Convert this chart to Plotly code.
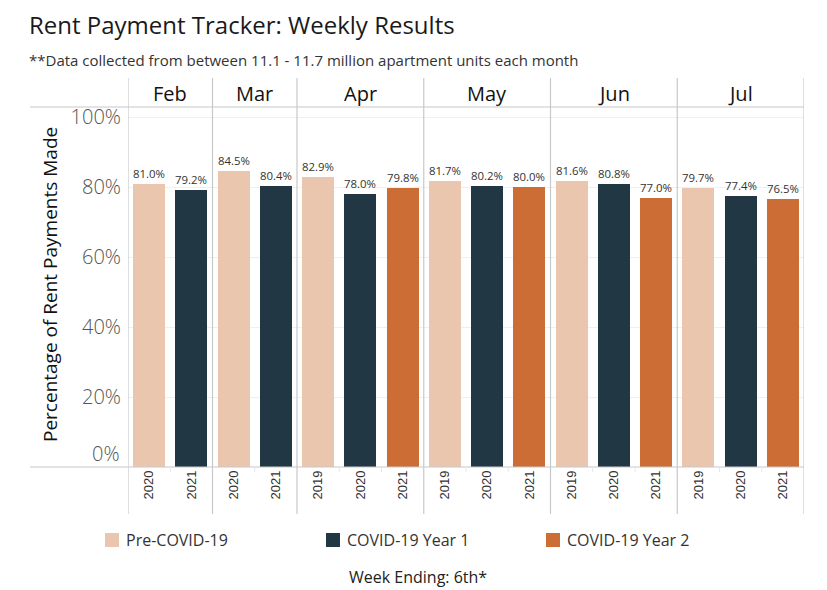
import plotly.graph_objects as go

# ---- data ----
months = ["Feb", "Mar", "Apr", "May", "Jun", "Jul"]
years = [["2020", "2021"], ["2020", "2021"],
         ["2019", "2020", "2021"], ["2019", "2020", "2021"],
         ["2019", "2020", "2021"], ["2019", "2020", "2021"]]
values = [[81.0, 79.2], [84.5, 80.4],
          [82.9, 78.0, 79.8], [81.7, 80.2, 80.0],
          [81.6, 80.8, 77.0], [79.7, 77.4, 76.5]]
groups = [["Pre-COVID-19", "COVID-19 Year 1"], ["Pre-COVID-19", "COVID-19 Year 1"],
          ["Pre-COVID-19", "COVID-19 Year 1", "COVID-19 Year 2"],
          ["Pre-COVID-19", "COVID-19 Year 1", "COVID-19 Year 2"],
          ["Pre-COVID-19", "COVID-19 Year 1", "COVID-19 Year 2"],
          ["Pre-COVID-19", "COVID-19 Year 1", "COVID-19 Year 2"]]
series = ["Pre-COVID-19", "COVID-19 Year 1", "COVID-19 Year 2"]
colors = {"Pre-COVID-19": "#EBC6AF", "COVID-19 Year 1": "#213844", "COVID-19 Year 2": "#CD6D36"}
yticks = [0, 20, 40, 60, 80, 100]

title = "Rent Payment Tracker: Weekly Results"
subtitle = "**Data collected from between 11.1 - 11.7 million apartment units each month"
ytitle = "Percentage of Rent Payments Made"
footer = "Week Ending: 6th*"

# ---- geometry helpers (page pixel coords) ----
W, H = 827, 590
L, R, T, B = 128, 804, 107, 467
YMAX = 102.86
FONT = "Open Sans"

def px(x):
    return (x - L) / (R - L)

def py(y):
    return (B - y) / (B - T)

# flatten slots
slot_x, slot_year, slot_val, slot_grp = [], [], [], []
bounds = [-0.5]
month_centers = []
i = 0
for m, ys, vs, gs in zip(months, years, values, groups):
    start = i
    for y_, v, g in zip(ys, vs, gs):
        slot_x.append(i); slot_year.append(y_); slot_val.append(v); slot_grp.append(g)
        i += 1
    bounds.append(i - 0.5)
    month_centers.append((start + i - 1) / 2)
n = i

fig = go.Figure()
for s in series:
    xs = [x for x, g in zip(slot_x, slot_grp) if g == s]
    vs = [v for v, g in zip(slot_val, slot_grp) if g == s]
    fig.add_trace(go.Bar(
        x=xs, y=vs, name=s, marker=dict(color=colors[s], line=dict(width=0)),
        width=0.76, text=[f"{v:.1f}%" for v in vs], textposition="outside",
        textfont=dict(size=13.5, color="#333333", family=FONT), cliponaxis=False,
        showlegend=False, hoverinfo="skip"))

shapes = []
for yy in (T, B):
    shapes.append(dict(type="line", xref="paper", yref="paper", x0=px(30), x1=1, y0=py(yy), y1=py(yy),
                       line=dict(color="#C8C8C8", width=1.2)))
for b in bounds:
    shapes.append(dict(type="line", xref="x", yref="paper", x0=b, x1=b, y0=py(514), y1=py(78),
                       line=dict(color="#C8C8C8", width=1.2)))
for k in range(n - 1):
    bx = k + 0.5
    if bx not in bounds:
        shapes.append(dict(type="line", xref="x", yref="paper", x0=bx, x1=bx, y0=py(467), y1=py(472),
                           line=dict(color="#E8E8E8", width=1)))
leg_x = [105, 326, 546]
for s, lx in zip(series, leg_x):
    shapes.append(dict(type="rect", xref="paper", yref="paper", x0=px(lx), x1=px(lx + 14),
                       y0=py(547), y1=py(533), fillcolor=colors[s], line=dict(width=0)))

annotations = []
annotations.append(dict(text=title, xref="paper", yref="paper", x=px(27), y=py(25), xanchor="left",
                        yanchor="middle", showarrow=False, font=dict(size=24, color="#1a1a1a", family=FONT)))
annotations.append(dict(text=subtitle, xref="paper", yref="paper", x=px(27), y=py(60), xanchor="left",
                        yanchor="middle", showarrow=False, font=dict(size=15, color="#333333", family=FONT)))
for m, c in zip(months, month_centers):
    annotations.append(dict(text=m, xref="x", yref="paper", x=c, y=py(94), xanchor="center",
                            yanchor="middle", showarrow=False, font=dict(size=20, color="#111111", family=FONT)))
annotations.append(dict(text=ytitle, xref="paper", yref="paper", x=px(50), y=py(285), xanchor="center",
                        yanchor="middle", textangle=-90, showarrow=False,
                        font=dict(size=19, color="#111111", family=FONT)))
# the 0% label sits just above the baseline, inside the pane
annotations.append(dict(text=f"{yticks[0]}%", xref="paper", yref="paper", x=px(122), y=py(453),
                        xanchor="right", yanchor="middle", showarrow=False,
                        font=dict(size=20, color="#555555", family=FONT, weight=300)))
for s, lx in zip(series, leg_x):
    annotations.append(dict(text=s, xref="paper", yref="paper", x=px(lx + 19), y=py(540), xanchor="left",
                            yanchor="middle", showarrow=False, font=dict(size=16, color="#333333", family=FONT)))
annotations.append(dict(text=footer, xref="paper", yref="paper", x=px(418), y=py(577), xanchor="center",
                        yanchor="middle", showarrow=False, font=dict(size=16, color="#222222", family=FONT)))

fig.update_layout(
    width=W, height=H, autosize=False,
    margin=dict(l=L, r=W - R, t=T, b=H - B, pad=0),
    paper_bgcolor="white", plot_bgcolor="white",
    bargap=0, showlegend=False, hovermode=False,
    shapes=shapes, annotations=annotations,
    xaxis=dict(range=[-0.5, n - 0.5], tickvals=slot_x, ticktext=slot_year, tickangle=-90,
               tickfont=dict(size=13, color="#333333", family="Liberation Sans"), showgrid=False,
               zeroline=False, showline=False, ticks="", fixedrange=True),
    yaxis=dict(range=[0, YMAX], tickvals=yticks,
               ticktext=["" if v == 0 else f"{v}%" for v in yticks],
               tickfont=dict(size=20, color="#555555", family=FONT, weight=300), showgrid=True,
               gridcolor="#F0F0F0", gridwidth=1, zeroline=False, showline=False, ticks="",
               ticklabelstandoff=6, fixedrange=True),
)

fig.write_html("out.html", config={"displayModeBar": False},
               post_script="document.body.style.margin='0px';")
